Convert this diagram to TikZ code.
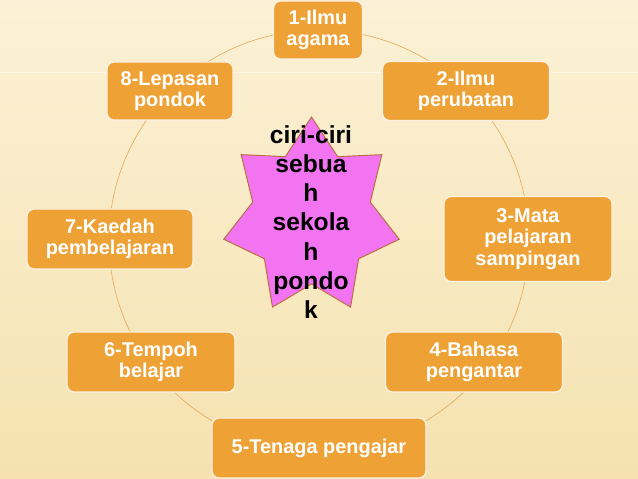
\documentclass[tikz,border=0pt]{standalone}
\usepackage{fontspec}
\setmainfont{Liberation Sans}
\usetikzlibrary{positioning,calc}
\definecolor{latar}{HTML}{FCF1D6}
\definecolor{latarbawah}{HTML}{F5E2B0}
\definecolor{oren}{HTML}{EEA235}
\definecolor{garis}{HTML}{E2A24E}
\definecolor{bintang}{HTML}{F274F0}
\definecolor{tepibintang}{HTML}{B86E3C}

\tikzset{
  kotak/.style={rectangle, rounded corners=6pt, fill=oren, draw=white!85!oren,
    line width=1.2pt, text=white, align=center, inner sep=2pt,
    font=\fontsize{17}{18.5}\selectfont\bfseries},
  tajuk/.style={align=center, text=black, inner sep=0pt,
    font=\fontsize{21}{25}\selectfont\bfseries},
}

\begin{document}
\begin{tikzpicture}[x=0.03cm, y=0.03cm]
  \def\sx{311.5}
  \def\sy{262}
  \def\ra{100}
  \def\rb{67}

  % Background
  \shade[top color=latar, bottom color=latarbawah] (0,0) rectangle (638,479);
  \path[use as bounding box] (0,0) rectangle (638,479);
  \draw[white!35!latar, line width=0.5pt] (0,407) -- (638,407);

  % Ring behind the boxes
  \draw[garis!85!latar, line width=0.6pt] (319,239) circle (210);

  % Eight boxes
  \foreach \i/\x/\y/\w/\h/\t in {
      1/318/449/2.67/1.74/{1-Ilmu\\agama},
      2/466/388/5.01/1.77/{2-Ilmu\\perubatan},
      3/528/240/5.04/2.55/{3-Mata\\pelajaran\\sampingan},
      4/474/117/5.31/1.80/{4-Bahasa\\pengantar},
      5/319/31/6.42/1.80/{5-Tenaga pengajar},
      6/151/117/5.04/1.80/{6-Tempoh\\belajar},
      7/110/240/4.98/1.80/{7-Kaedah\\pembelajaran},
      8/170/388/3.78/1.74/{8-Lepasan\\pondok}} {
    \node[kotak, minimum width=\w cm, minimum height=\h cm] (c\i) at (\x,\y) {\t};
  }

  % Seven point star
  \begin{scope}[shift={(\sx,\sy)}, xscale=0.9]
    \draw[fill=bintang, draw=tepibintang, line width=0.8pt] (90:\ra)
      \foreach \k [evaluate=\k as \rr using {(\ra+\rb)/2+(\ra-\rb)/2*cos(\k*180)}] in {1,...,13} {
        -- ({90+\k*180/7}:\rr) } -- cycle;
  \end{scope}
  \node[tajuk] (pusat) at (311,257) {ciri-ciri\\sebua\\h\\sekola\\h\\pondo\\k};

\end{tikzpicture}
\end{document}
